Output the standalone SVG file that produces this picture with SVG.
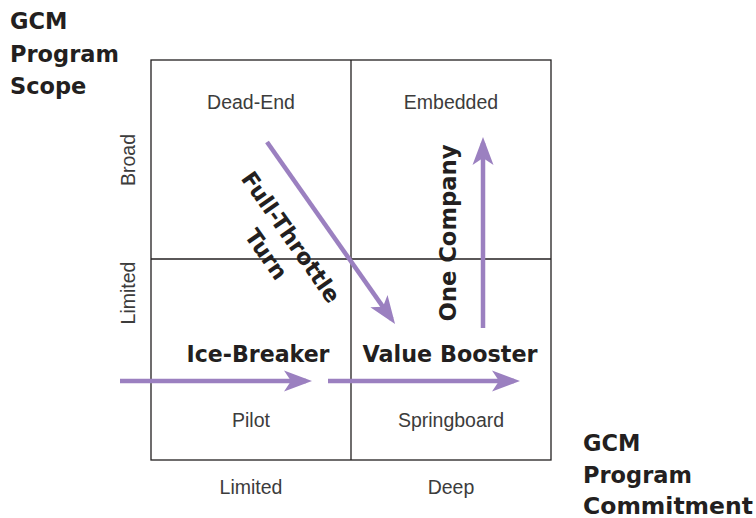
<svg xmlns="http://www.w3.org/2000/svg" width="756" height="518" viewBox="0 0 756 518">
<style>
.grid{fill:none;stroke:#231f20;stroke-width:1.3}
.cell{font-family:"Liberation Sans",Arial,sans-serif;font-size:19.5px;fill:#3c3c3c;text-anchor:middle}
.bold{font-family:"DejaVu Sans","Liberation Sans",sans-serif;font-weight:bold;font-size:22.5px;fill:#231f20}
.arr{fill:none;stroke:#9b80c0;stroke-width:4.5}
</style>
<defs>
<marker id="ah" markerUnits="userSpaceOnUse" markerWidth="32" markerHeight="26" viewBox="0 -13 32 26" refX="22" refY="0" orient="auto">
<path d="M28,0 L0,-10.5 L7,0 L0,10.5 Z" fill="#9b80c0"/>
</marker>
</defs>
<rect fill="#fff" width="756" height="518"/>
<g id="grid">
<rect class="grid" x="151" y="60" width="400" height="400"/>
<line class="grid" x1="351" y1="60" x2="351" y2="460"/>
<line class="grid" x1="151" y1="259" x2="551" y2="259"/>
</g>
<g id="dead-end"><text class="cell" x="251" y="109">Dead-End</text></g>
<g id="embedded"><text class="cell" x="451" y="109">Embedded</text></g>
<g id="pilot"><text class="cell" x="251" y="427">Pilot</text></g>
<g id="springboard"><text class="cell" x="451" y="427">Springboard</text></g>
<g id="axis-labels">
<text class="cell" x="251" y="494">Limited</text>
<text class="cell" x="451" y="494">Deep</text>
<text class="cell" transform="translate(135,160) rotate(-90)">Broad</text>
<text class="cell" transform="translate(135,293) rotate(-90)">Limited</text>
</g>
<g id="y-title">
<text class="bold" x="10" y="29">GCM</text>
<text class="bold" x="10" y="62">Program</text>
<text class="bold" x="10" y="94">Scope</text>
</g>
<g id="x-title">
<text class="bold" x="583" y="451">GCM</text>
<text class="bold" x="583" y="483">Program</text>
<text class="bold" x="583" y="514" textLength="170" lengthAdjust="spacingAndGlyphs">Commitment</text>
</g>
<g id="connectors">
<line class="arr" x1="120" y1="381" x2="306" y2="381" marker-end="url(#ah)"/>
<line class="arr" x1="328" y1="381" x2="514" y2="381" marker-end="url(#ah)"/>
<line class="arr" x1="483" y1="328" x2="483" y2="143" marker-end="url(#ah)"/>
<line class="arr" x1="267" y1="142" x2="391.6" y2="319.1" marker-end="url(#ah)"/>
</g>
<g id="arrow-labels">
<text class="bold" x="258" y="362" text-anchor="middle" textLength="143" lengthAdjust="spacingAndGlyphs">Ice-Breaker</text>
<text class="bold" x="450" y="362" text-anchor="middle" textLength="175" lengthAdjust="spacingAndGlyphs">Value Booster</text>
<text class="bold" transform="translate(456,233) rotate(-90)" text-anchor="middle" textLength="177" lengthAdjust="spacingAndGlyphs">One Company</text>
<text class="bold" transform="translate(291,237) rotate(55)" text-anchor="middle" y="8">Full-Throttle</text>
<text class="bold" transform="translate(291,237) rotate(55)" text-anchor="middle" y="38">Turn</text>
</g>
</svg>
